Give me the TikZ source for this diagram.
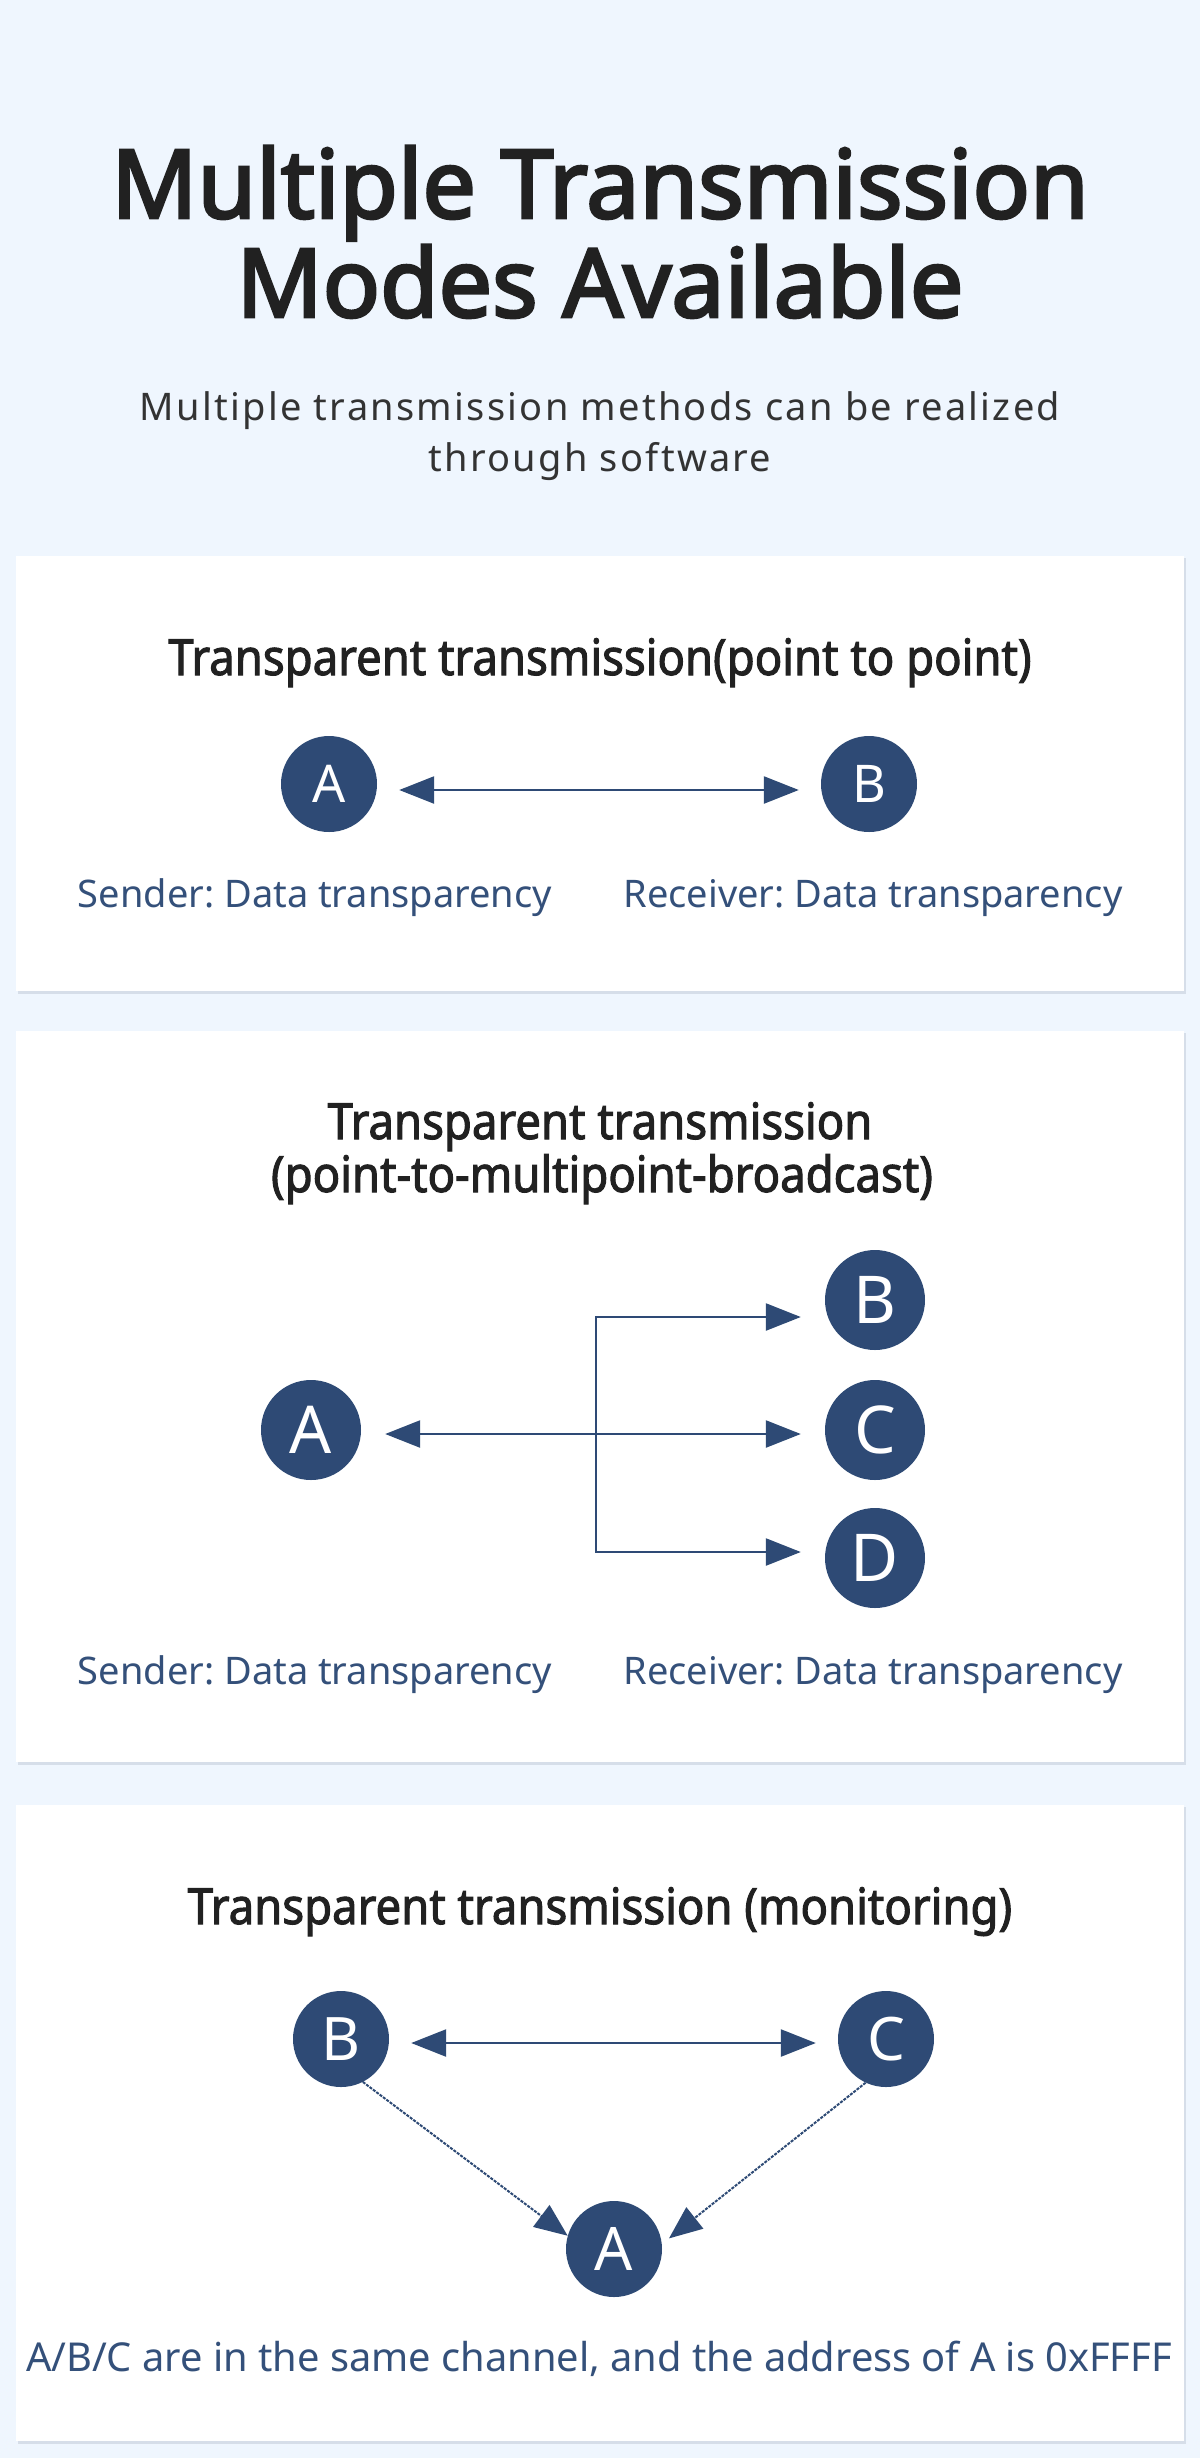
\documentclass[tikz,border=0pt]{standalone}
\usepackage{fontspec}
\setmainfont{Noto Sans}
\newfontfamily\headfont[FakeBold=3]{Noto Sans}
\newfontfamily\medfont[FakeStretch=0.91,FakeBold=2]{Noto Sans}
\newfontfamily\subfont[LetterSpace=6]{Noto Sans}
\usetikzlibrary{arrows.meta,calc,positioning}
\definecolor{pageBack}{HTML}{EFF6FE}
\definecolor{cardShade}{HTML}{D6DEE9}
\definecolor{nodeBlue}{HTML}{2E4A75}
\definecolor{labelBlue}{HTML}{34507A}
\colorlet{headText}{black!87}
\colorlet{subText}{black!80}
\NewDocumentCommand\DrawCard{mm}%
{%
\fill[cardShade] (18,{#1+2}) rectangle (1186,{#2+3});%
\fill[white] (16,#1) rectangle (1184,#2);%
}
\tikzset{
  >={Triangle[length=35pt,width=27pt]},
  station/.style={circle,fill=nodeBlue,text=white,inner sep=0pt,minimum size=#1},
  station/.default=96pt,
  cardhead/.style={anchor=base,inner sep=0pt,text=headText,font=\medfont\fontsize{50}{50}\selectfont},
  note/.style={anchor=base,inner sep=0pt,text=labelBlue,font=\fontsize{38}{38}\selectfont},
  link/.style={draw=nodeBlue,line width=2.5pt,<->,shorten <=#1,shorten >=#1},
  link/.default=22pt,
  watch/.style={draw=nodeBlue,line width=2pt,dash pattern=on 3pt off 1.2pt,
    -{Triangle[length=33pt,width=27pt]}}
}
\frenchspacing

\begin{document}
\begin{tikzpicture}[x=1pt,y=-1pt]
\fill[pageBack] (0,0) rectangle (1200,2458);
\useasboundingbox (0,0) rectangle (1200,2458);
% heading
\node[anchor=base,inner sep=0pt,text=headText,font=\headfont\fontsize{95}{95}\selectfont] (titleTop) at (600,218) {Multiple Transmission};
\node[anchor=base,inner sep=0pt,text=headText,font=\headfont\fontsize{95}{95}\selectfont] (titleLow) at (600,317) {Modes Available};
\node[anchor=base,inner sep=0pt,text=subText,font=\subfont\fontsize{38}{38}\selectfont] (subTop) at (600,420) {Multiple transmission methods can be realized};
\node[anchor=base,inner sep=0pt,text=subText,font=\subfont\fontsize{38}{38}\selectfont] (subLow) at (600,471) {through software};
% point to point
\DrawCard{556}{991}
\node[cardhead] (headOne) at (600,675) {Transparent transmission(point to point)};
\node[station,font=\fontsize{52}{52}\selectfont] (pA) at (329,784) {A};
\node[station,font=\fontsize{52}{52}\selectfont] (pB) at (869,784) {B};
\draw[link] ([yshift=-6pt]pA.east) -- ([yshift=-6pt]pB.west);
\node[note] (sendOne) at (315,907) {Sender: Data transparency};
\node[note] (recvOne) at (873,907) {Receiver: Data transparency};
% broadcast
\DrawCard{1031}{1762}
\node[cardhead] (headTwo) at (600,1139) {Transparent transmission};
\node[cardhead] (headTwoLow) at (602,1192) {(point-to-multipoint-broadcast)};
\node[station=100pt,font=\fontsize{66}{66}\selectfont] (bA) at (311,1430) {A};
\node[station=100pt,font=\fontsize{66}{66}\selectfont] (bB) at (875,1300) {B};
\node[station=100pt,font=\fontsize{66}{66}\selectfont] (bC) at (875,1430) {C};
\node[station=100pt,font=\fontsize{66}{66}\selectfont] (bD) at (875,1558) {D};
\coordinate[xshift=3pt] (hub) at ($(bA)!0.5!(bC)$);
\draw[link=24pt] ([yshift=-4pt]bA.east) -- ([yshift=-4pt]bC.west);
\draw[link=24pt] ([yshift=-17pt]bB.west) -| (hub) |- ([yshift=6pt]bD.west);
%\draw[link=24pt] (hub) |- (bD);
\node[note] (sendTwo) at (315,1684) {Sender: Data transparency};
\node[note] (recvTwo) at (873,1684) {Receiver: Data transparency};
% monitoring
\DrawCard{1805}{2441}
\node[cardhead] (headThree) at (600,1924) {Transparent transmission (monitoring)};
\node[station,font=\fontsize{60}{60}\selectfont] (mB) at (341,2039) {B};
\node[station,font=\fontsize{60}{60}\selectfont] (mC) at (886,2039) {C};
\node[station,font=\fontsize{60}{60}\selectfont] (mA) at (614,2249) {A};
\draw[link] ([yshift=-4pt]mB.east) -- ([yshift=-4pt]mC.west);
\draw[watch] (mB.-63) -- (mA.164);
\draw[watch,shorten >=9pt] (mC.245) -- (mA.6);
\node[note,font=\fontsize{39.8}{40}\selectfont] (addrNote) at (599,2371) {A/B/C are in the same channel, and the address of A is 0xFFFF};
\end{tikzpicture}
\end{document}
